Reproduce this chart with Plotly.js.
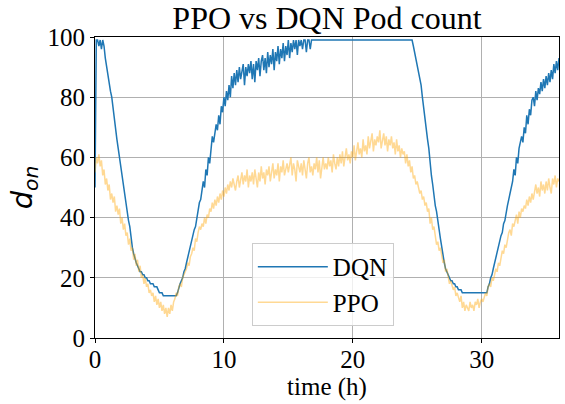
<!DOCTYPE html>
<html>
<head>
<meta charset="utf-8">
<script src="https://cdn.plot.ly/plotly-3.0.1.min.js"></script>
<style>html,body{margin:0;padding:0;background:#fff;}#chart{width:565px;height:404px;}</style>
</head>
<body>
<div id="chart"></div>
<script>
// time step between samples (hours); samples start at t = 0
const timeStart = 0;
const timeStep = 0.1;

// DQN pod count, one value every 0.1 h from 0 to 36 h
const dqn = [
  50, 99, 99, 97, 99, 96, 99, 97, 93, 90,
  87, 85, 82, 80, 76, 72, 69, 66, 63, 60,
  57, 53, 51, 47, 45, 42, 39, 37, 33, 30,
  28, 26, 25, 24, 23, 22, 22, 21, 21, 20,
  20, 19, 19, 18, 18, 18, 17, 17, 17, 16,
  15, 15, 15, 14, 14, 14, 14, 14, 14, 14,
  14, 14, 14, 14, 15, 17, 18, 19, 20, 22,
  23, 25, 27, 28, 31, 32, 35, 36, 37, 40,
  42, 45, 46, 49, 52, 50, 56, 54, 60, 58,
  64, 67, 65, 69, 71, 69, 74, 71, 77, 75,
  80, 77, 82, 79, 84, 80, 87, 83, 88, 84,
  89, 85, 90, 86, 89, 91, 84, 90, 87, 91,
  88, 92, 86, 91, 85, 92, 89, 93, 87, 92,
  94, 89, 93, 88, 95, 90, 94, 91, 96, 89,
  95, 92, 97, 91, 96, 93, 98, 92, 97, 94,
  99, 93, 98, 95, 99, 96, 99, 94, 99, 97,
  99, 96, 99, 99, 95, 99, 99, 96, 99, 99,
  99, 99, 99, 99, 99, 99, 99, 99, 99, 99,
  99, 99, 99, 99, 99, 99, 99, 99, 99, 99,
  99, 99, 99, 99, 99, 99, 99, 99, 99, 99,
  99, 99, 99, 99, 99, 99, 99, 99, 99, 99,
  99, 99, 99, 99, 99, 99, 99, 99, 99, 99,
  99, 99, 99, 99, 99, 99, 99, 99, 99, 99,
  99, 99, 99, 99, 99, 99, 99, 99, 99, 99,
  99, 99, 99, 99, 99, 99, 99, 97, 95, 93,
  91, 89, 87, 84, 80, 76, 72, 69, 66, 63,
  58, 54, 51, 47, 44, 42, 38, 36, 33, 30,
  27, 25, 23, 22, 21, 20, 19, 19, 18, 18,
  17, 17, 16, 16, 16, 15, 15, 15, 15, 15,
  15, 15, 15, 15, 15, 15, 15, 15, 15, 15,
  15, 15, 15, 15, 15, 17, 18, 20, 21, 23,
  25, 27, 28, 30, 32, 34, 35, 38, 39, 42,
  44, 46, 48, 51, 52, 56, 54, 60, 58, 63,
  65, 67, 65, 70, 68, 74, 71, 76, 74, 79,
  80, 77, 82, 79, 83, 81, 85, 82, 86, 83,
  87, 84, 88, 85, 89, 86, 91, 88, 92, 89,
  93
];

// PPO pod count, one value every 0.1 h from 0 to 36 h
const ppo = [
  55, 60, 58, 61, 57, 59, 54, 56, 51, 53,
  49, 51, 46, 48, 45, 47, 42, 44, 41, 43,
  38, 40, 36, 38, 34, 35, 31, 33, 29, 30,
  26, 28, 24, 26, 22, 24, 20, 21, 18, 20,
  17, 18, 15, 16, 14, 15, 12, 14, 11, 13,
  10, 12, 9, 11, 8, 10, 7, 10, 8, 11,
  9, 12, 13, 15, 14, 17, 18, 17, 20, 21,
  22, 23, 25, 24, 27, 28, 30, 29, 33, 32,
  35, 37, 36, 38, 37, 40, 38, 41, 40, 43,
  42, 45, 43, 46, 44, 47, 45, 48, 46, 49,
  47, 50, 48, 51, 49, 52, 50, 53, 51, 49,
  52, 54, 50, 53, 55, 51, 54, 52, 56, 50,
  54, 52, 55, 51, 56, 53, 50, 55, 52, 57,
  53, 55, 51, 56, 54, 57, 52, 55, 58, 53,
  56, 54, 58, 52, 57, 55, 59, 54, 56, 58,
  55, 57, 60, 54, 58, 56, 52, 59, 57, 55,
  58, 54, 59, 56, 53, 58, 60, 55, 57, 54,
  58, 56, 60, 55, 59, 53, 57, 60, 56, 58,
  56, 60, 57, 59, 55, 61, 58, 56, 60, 57,
  61, 58, 62, 57, 60, 63, 59, 61, 58, 62,
  60, 64, 59, 62, 65, 61, 63, 60, 66, 62,
  64, 61, 67, 63, 65, 68, 62, 66, 64, 67,
  65, 69, 63, 66, 68, 64, 67, 62, 66, 64,
  67, 63, 65, 61, 66, 62, 64, 60, 63, 61,
  62, 58, 61, 57, 59, 55, 57, 53, 54, 51,
  52, 50, 48, 49, 46, 47, 44, 45, 42, 43,
  38, 40, 36, 37, 33, 31, 32, 29, 30, 27,
  25, 26, 22, 23, 20, 18, 19, 17, 16, 17,
  14, 15, 13, 12, 14, 10, 12, 9, 11, 10,
  9, 12, 10, 11, 9, 12, 11, 13, 10, 12,
  13, 12, 14, 15, 14, 17, 18, 17, 20, 19,
  21, 23, 22, 25, 24, 27, 29, 28, 31, 30,
  33, 35, 36, 34, 38, 37, 39, 41, 38, 42,
  40, 43, 42, 44, 43, 46, 44, 47, 45, 48,
  46, 49, 51, 48, 50, 47, 52, 49, 51, 48,
  52, 49, 53, 50, 48, 53, 51, 54, 50, 53,
  52
];

const seriesNames = ['DQN', 'PPO'];
const xTicks = [0, 10, 20, 30];
const yTicks = [0, 20, 40, 60, 80, 100];

const serif = '"Liberation Serif", "Times New Roman", serif';

const traces = [
  {
    type: 'scatter', mode: 'lines', name: seriesNames[0],
    x0: timeStart, dx: timeStep, y: dqn,
    line: {color: '#1f77b4', width: 1.5}
  },
  {
    type: 'scatter', mode: 'lines', name: seriesNames[1],
    x0: timeStart, dx: timeStep, y: ppo,
    line: {color: 'rgba(255,165,0,0.42)', width: 1.5}
  }
];

const axisCommon = {
  showline: true, mirror: true, linecolor: '#000', linewidth: 1,
  showgrid: true, gridcolor: '#b0b0b0', gridwidth: 1,
  zeroline: false,
  ticks: 'outside', ticklen: 4, tickwidth: 1, tickcolor: '#000',
  tickfont: {family: serif, size: 25, color: '#000'}
};

const layout = {
  width: 565, height: 404,
  margin: {l: 95, r: 6, t: 37, b: 66},
  paper_bgcolor: '#fff', plot_bgcolor: '#fff',
  font: {family: serif, size: 25, color: '#000'},
  title: {
    text: 'PPO vs DQN Pod count',
    font: {family: serif, size: 32, color: '#000'},
    x: 0.5788, xanchor: 'center', y: 0.955, yanchor: 'middle', yref: 'container'
  },
  xaxis: Object.assign({}, axisCommon, {
    range: [0, 36], tickvals: xTicks, ticktext: xTicks.map(String),
    ticklabelstandoff: -5,
    title: {text: 'time (h)', font: {family: serif, size: 25, color: '#000'}, standoff: 0}
  }),
  yaxis: Object.assign({}, axisCommon, {
    range: [0, 100], tickvals: yTicks, ticktext: yTicks.map(String),
    title: {text: '<i>d</i><sub><i>on</i></sub>', font: {family: 'DejaVu Sans', size: 29, color: '#000'}, standoff: 6}
  }),
  legend: {
    x: 0.338, y: 0.316, xanchor: 'left', yanchor: 'top',
    bgcolor: 'rgba(255,255,255,0.8)', bordercolor: '#cccccc', borderwidth: 1,
    itemwidth: 70,
    font: {family: serif, size: 25, color: '#000'}
  },
  showlegend: true
};

Plotly.newPlot('chart', traces, layout, {staticPlot: true, displayModeBar: false});
</script>
</body>
</html>
